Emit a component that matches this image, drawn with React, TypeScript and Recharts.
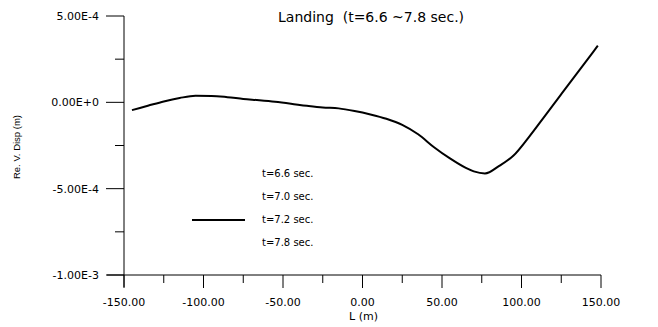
import { LineChart, Line, XAxis, YAxis } from 'recharts'

// Vertical displacement along the span, t = 7.2 sec (the only drawn curve)
const L_VALUES = [
  -145, -135, -125, -115, -105, -95, -85, -75, -65, -55, -45, -35, -25, -15, -5,
  5, 15, 25, 35, 45, 55, 65, 70, 77, 86, 95, 105, 115, 125, 135, 145, 148,
]
const DISP_T72 = [
  -4.5e-5, -2.0e-5, 0.5e-5, 2.5e-5, 3.8e-5, 3.7e-5, 3.0e-5, 2.0e-5, 1.2e-5, 0.3e-5, -0.8e-5, -2.0e-5, -3.0e-5, -3.5e-5, -5.0e-5,
  -7.0e-5, -9.5e-5, -1.3e-4, -1.85e-4, -2.6e-4, -3.25e-4, -3.8e-4, -4.0e-4, -4.12e-4, -3.68e-4, -3.08e-4, -1.97e-4, -0.75e-4, 0.47e-4, 1.69e-4, 2.91e-4, 3.28e-4,
]

const X_TICKS = [-150, -125, -100, -75, -50, -25, 0, 25, 50, 75, 100, 125, 150]
const Y_TICKS = [-1e-3, -7.5e-4, -5e-4, -2.5e-4, 0, 2.5e-4, 5e-4]
const LEGEND_LABELS = ['t=6.6 sec.', 't=7.0 sec.', 't=7.2 sec.', 't=7.8 sec.']
const DRAWN_SERIES = 't=7.2 sec.'

const data = L_VALUES.map((L, i) => ({ L, d72: DISP_T72[i] }))

const FONT = '"DejaVu Sans", sans-serif'

function XTick({ x, y, payload, index }: any) {
  const major = payload.value % 50 === 0
  return (
    <g>
      {index === 0 && <line x1={x - 17} x2={x} y1={y} y2={y} stroke="#000" />}
      <line x1={x} x2={x} y1={y} y2={y + (major ? 13 : 8)} stroke="#000" />
      {major && (
        <text x={x} y={y + 31} textAnchor="middle" fontSize={11} fontFamily={FONT} fill="#000">
          {payload.value.toFixed(2)}
        </text>
      )}
    </g>
  )
}

function YTick({ x, y, payload, index }: any) {
  const major = index % 2 === 0
  return (
    <g>
      {index === 0 && <line x1={x} x2={x} y1={y} y2={y + 12} stroke="#000" />}
      <line x1={x - (major ? 18 : 9)} x2={x} y1={y} y2={y} stroke="#000" />
      {major && (
        <text x={x - 25} y={y + 4} textAnchor="end" fontSize={11} fontFamily={FONT} fill="#000">
          {payload.value.toExponential(2).toUpperCase()}
        </text>
      )}
    </g>
  )
}

export default function App() {
  return (
    <div style={{ position: 'absolute', left: 0, top: 0, width: 658, height: 327, background: '#fff', fontFamily: FONT }}>
      <LineChart width={658} height={327} data={data} margin={{ top: 16, right: 57, bottom: 22, left: 64 }}>
        <XAxis
          dataKey="L"
          type="number"
          domain={[-150, 150]}
          ticks={X_TICKS}
          interval={0}
          height={30}
          tickSize={0}
          tickMargin={0}
          tickLine={false}
          tick={<XTick />}
          axisLine={{ stroke: '#000' }}
        />
        <YAxis
          type="number"
          domain={[-1e-3, 5e-4]}
          ticks={Y_TICKS}
          interval={0}
          width={60}
          tickSize={0}
          tickMargin={0}
          tickLine={false}
          tick={<YTick />}
          axisLine={{ stroke: '#000' }}
        />
        <Line
          dataKey="d72"
          type="monotone"
          stroke="#000"
          strokeWidth={2}
          dot={false}
          isAnimationActive={false}
        />
      </LineChart>

      <div style={{ position: 'absolute', left: 349, top: 310, fontSize: 11, lineHeight: '13px' }}>L (m)</div>
      <div style={{ position: 'absolute', left: 278, top: 9, fontSize: 14, whiteSpace: 'pre' }}>
        Landing  (t=6.6 ~7.8 sec.)
      </div>
      <div
        style={{
          position: 'absolute', left: 16, top: 147, fontSize: 9.5,
          fontFamily: '"Liberation Sans", Arial, sans-serif', whiteSpace: 'nowrap',
          transform: 'translate(-50%, -50%) rotate(-90deg)',
        }}
      >
        Re. V. Disp (m)
      </div>

      <div style={{ position: 'absolute', left: 192, top: 162, fontSize: 10 }}>
        {LEGEND_LABELS.map((label) => (
          <div key={label} style={{ display: 'flex', alignItems: 'center', height: 23 }}>
            <div style={{ width: 53, marginRight: 17, borderTop: label === DRAWN_SERIES ? '2px solid #000' : 'none' }} />
            <span>{label}</span>
          </div>
        ))}
      </div>
    </div>
  )
}
